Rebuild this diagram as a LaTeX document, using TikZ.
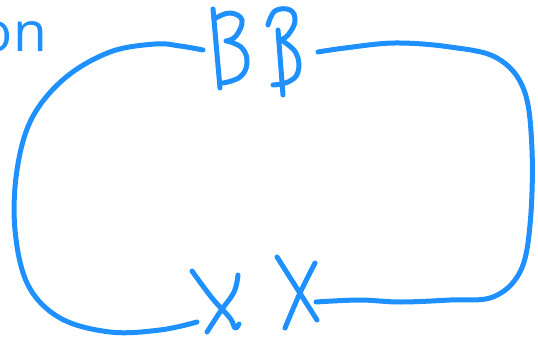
\documentclass[tikz,border=0pt]{standalone}
\usepackage{fontspec}
\setmainfont{Open Sans}
\definecolor{ink}{RGB}{30,144,255}
\tikzset{pen/.style={draw=ink,line width=5pt,line cap=round,line join=round}}
\begin{document}
\begin{tikzpicture}[x=1pt,y=-1pt]
\useasboundingbox (0,0) rectangle (538,337);
\node[anchor=base east,text=ink,font=\fontsize{55}{60}\selectfont,inner sep=0pt] (lbl) at (47,52) {on};
% left loop
\coordinate (tl) at (203,50);
\coordinate (bl) at (197,322);
\draw[pen] plot[smooth,tension=0.6] coordinates {(tl) (180,46) (155,44) (110,52) (65,78) (32,118) (17,170) (15,230) (28,285) (60,318) (110,332) (160,330) (bl)};
% right loop
\coordinate (tr) at (318,52);
\coordinate (br) at (316,302);
\draw[pen] plot[smooth,tension=0.6] coordinates {(tr) (345,48) (395,43) (450,47) (497,58) (524,90) (532,150) (530,225) (520,272) (493,297) (450,300) (400,302) (360,300) (br)};
% B
\draw[pen] (213,9) -- (220,88);
\draw[pen] plot[smooth,tension=0.7] coordinates {(216,18) (230,13) (242,20) (236,36) (226,41)};
\draw[pen] plot[smooth,tension=0.7] coordinates {(227,41) (242,48) (247,63) (240,77) (223,83)};
% beta
\draw[pen] (278,30) -- (283,95);
\draw[pen] plot[smooth,tension=0.7] coordinates {(268,25) (275,11) (290,10) (295,21) (288,35) (280,40)};
\draw[pen] plot[smooth,tension=0.7] coordinates {(281,40) (296,53) (298,72) (288,82) (273,85)};
% X 1
\draw[pen] plot[smooth,tension=0.6] coordinates {(192,271) (212,298) (230,318) (235,328) (239,324)};
\draw[pen] plot[smooth,tension=0.6] coordinates {(238,275) (234,292) (220,312) (207,332)};
% X 2
\draw[pen] (277,257) -- (317,320);
\draw[pen] plot[smooth,tension=0.6] coordinates {(315,263) (300,293) (285,328)};
\end{tikzpicture}
\end{document}
